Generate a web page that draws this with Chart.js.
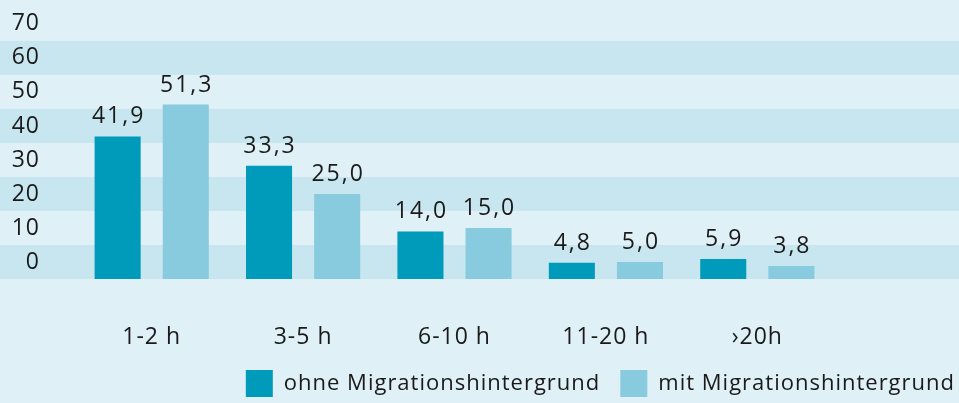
<!DOCTYPE html>
<html>
<head>
<meta charset="utf-8">
<script src="https://cdn.jsdelivr.net/npm/chart.js@4"></script>
<style>
  html, body { margin: 0; padding: 0; background: #dff0f7; }
  #wrap { width: 959px; height: 403px; position: relative; background: #dff0f7; }
</style>
</head>
<body>
<div id="wrap"><canvas id="c"></canvas></div>
<script>
const categories = ['1-2 h', '3-5 h', '6-10 h', '11-20 h', '›20h'];
const ohne = [41.9, 33.3, 14.0, 4.8, 5.9];
const mit = [51.3, 25.0, 15.0, 5.0, 3.8];
const seriesNames = ['ohne Migrationshintergrund', 'mit Migrationshintergrund'];
const yTickValues = [0, 10, 20, 30, 40, 50, 60, 70];

const FONT = "'Open Sans', 'Noto Sans', sans-serif";
const TEXT = '#1a1a1a';

const spacingPlugin = {
  id: 'spacing',
  beforeLayout(chart) { try { chart.ctx.letterSpacing = '1px'; } catch (e) {} },
  beforeDraw(chart) { try { chart.ctx.letterSpacing = '1px'; } catch (e) {} }
};

const bandsPlugin = {
  id: 'bands',
  beforeDraw(chart) {
    const y = chart.scales.y;
    const ctx = chart.ctx;
    ctx.save();
    ctx.fillStyle = '#c8e6ef';
    for (let i = 0; i < yTickValues.length; i += 2) {
      const v0 = yTickValues[i];
      const top = y.getPixelForValue(v0 + 10);
      const bot = y.getPixelForValue(v0);
      ctx.fillRect(0, top, chart.width, bot - top);
    }
    ctx.restore();
  }
};

const valueLabels = {
  id: 'valueLabels',
  afterDatasetsDraw(chart) {
    const ctx = chart.ctx;
    ctx.save();
    ctx.font = '23px ' + FONT;
    ctx.fillStyle = TEXT;
    ctx.textAlign = 'center';
    ctx.textBaseline = 'alphabetic';
    try { ctx.letterSpacing = '2px'; } catch (e) {}
    chart.data.datasets.forEach((ds, di) => {
      const meta = chart.getDatasetMeta(di);
      meta.data.forEach((el, i) => {
        const txt = ds.data[i].toFixed(1).replace('.', ',');
        ctx.fillText(txt, el.x + 1, el.y - 13);
      });
    });
    ctx.restore();
  }
};

new Chart(document.getElementById('c'), {
  type: 'bar',
  data: {
    labels: categories,
    datasets: [
      { label: seriesNames[0], data: ohne, backgroundColor: '#009aba', borderWidth: 0 },
      { label: seriesNames[1], data: mit, backgroundColor: '#88cade', borderWidth: 0 }
    ]
  },
  options: {
    responsive: true,
    maintainAspectRatio: false,
    animation: false,
    layout: { padding: { left: 0, top: 0, right: -16, bottom: -4 } },
    datasets: { bar: { categoryPercentage: 0.9, barPercentage: 0.676 } },
    plugins: {
      tooltip: { enabled: false },
      legend: {
        position: 'bottom',
        align: 'end',
        labels: {
          boxWidth: 27,
          boxHeight: 27,
          padding: 20,
          color: TEXT,
          font: { family: FONT, size: 22 }
        }
      }
    },
    scales: {
      x: {
        grid: { display: false },
        border: { display: false },
        ticks: { color: TEXT, font: { family: FONT, size: 23 }, padding: 37, maxRotation: 0 },
        afterFit(s) { s.height = 71; }
      },
      y: {
        min: 0,
        max: 82,
        weight: 1,
        grid: { display: false, drawTicks: false },
        border: { display: false },
        ticks: {
          color: TEXT,
          font: { family: FONT, size: 23, lineHeight: 0.01 },
          padding: 0,
          callback(v) { return String(v - 5); }
        },
        afterBuildTicks(s) { s.ticks = yTickValues.map(v => ({ value: v + 5 })); },
        afterFit(s) { s.width = 40; }
      },
      yl: {
        type: 'linear',
        position: 'left',
        weight: 0,
        display: true,
        grid: { display: false, drawTicks: false },
        border: { display: false },
        ticks: { display: false },
        afterFit(s) { s.width = 36; }
      },
      yr: {
        type: 'linear',
        position: 'right',
        display: true,
        grid: { display: false, drawTicks: false },
        border: { display: false },
        ticks: { display: false },
        afterFit(s) { s.width = 142; }
      }
    }
  },
  plugins: [spacingPlugin, bandsPlugin, valueLabels]
});
</script>
</body>
</html>
